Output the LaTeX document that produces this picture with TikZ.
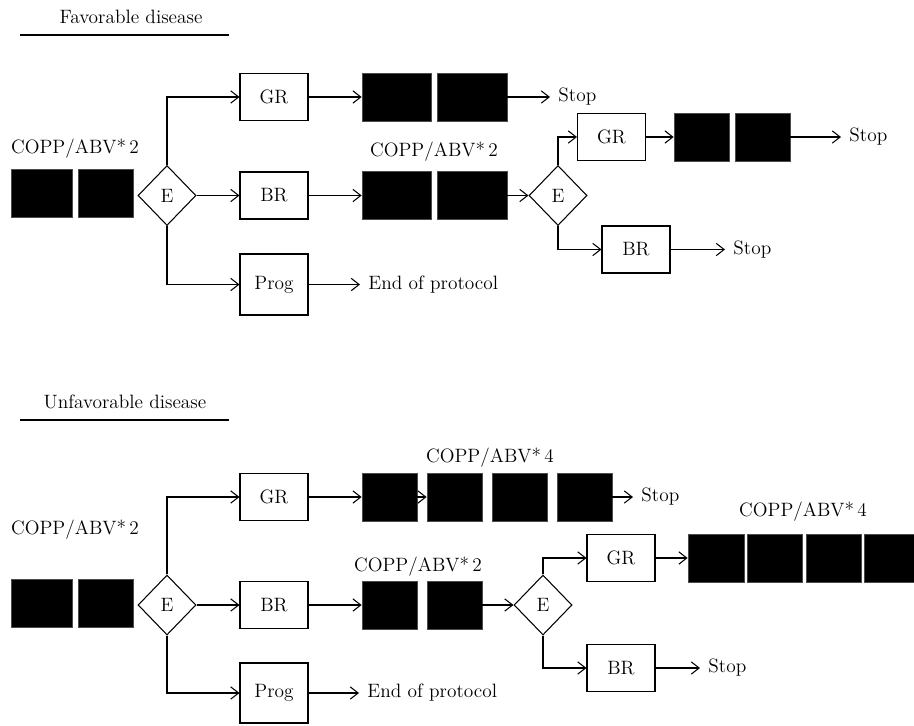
\documentclass[tikz,border=0pt]{standalone}
\usetikzlibrary{shapes.geometric,arrows.meta}

\tikzset{
  resp/.style={draw,minimum width=1.36cm,minimum height=0.94cm,inner sep=0pt},
  cyc/.style={fill=black,draw=black!70,line width=0.4pt,minimum height=0.96cm,inner sep=0pt},
  evalnode/.style={draw,diamond,minimum width=1.16cm,minimum height=1.2cm,inner sep=0pt},
  endtxt/.style={anchor=west,inner xsep=4.5pt,inner ysep=0pt}
}

\begin{document}
\begin{tikzpicture}[x=0.02cm,y=-0.02cm,line width=0.6pt,
    >={Straight Barb[length=4.5pt,width=7pt]},
    every node/.style={font=\fontsize{11}{13}\selectfont}]
  \useasboundingbox (0,0) rectangle (914,725);

  % Favorable disease
  \node (fav) at (131,17) {Favorable disease};
  \draw (20,35) -- (229,35);

  \node[cyc,minimum width=1.22cm] (k0a) at (41.5,193) {};
  \node[cyc,minimum width=1.10cm] (k0b) at (105.5,193) {};
  \node (c0) at (75,149) {COPP/ABV*\,2};
  \node[evalnode] (e1) at (167,195.5) {E};

  \node[resp] (gr1) at (274,97) {GR};
  \node[resp] (br1) at (274,195.5) {BR};
  \node[resp,minimum height=1.22cm] (prog1) at (274,284.5) {Prog};

  \node[cyc,minimum width=1.38cm] (k1a) at (396.5,97) {};
  \node[cyc,minimum width=1.40cm] (k1b) at (472,97) {};
  \node[endtxt] (stop1) at (550,97) {Stop};

  \node (c1) at (434,152) {COPP/ABV*\,2};
  \node[cyc,minimum width=1.38cm] (k2a) at (396.5,195.5) {};
  \node[cyc,minimum width=1.40cm] (k2b) at (472,195.5) {};
  \node[evalnode] (e2) at (558,195.5) {E};

  \node[resp] (gr2) at (611.5,137) {GR};
  \node[cyc,minimum width=1.10cm] (k3a) at (701.5,137) {};
  \node[cyc,minimum width=1.10cm] (k3b) at (762.5,137) {};
  \node[endtxt] (stop2) at (841,137) {Stop};
  \node[resp] (br2) at (636,249.5) {BR};
  \node[endtxt] (stop3) at (725,249.5) {Stop};
  \node[endtxt] (end1) at (360,284.5) {End of protocol};

  % connecting the units
  \draw[->] (e1.north) |- (gr1.west);
  \draw[->] (e1.east) -- (br1.west);
  \draw[->] (e1.south) |- (prog1.west);
  \draw[->] (gr1.east) -- (k1a.west);
  \draw[->] (k1b.east) -- (stop1.west);
  \draw[->] (br1.east) -- (k2a.west);
  \draw[->] (k2b.east) -- (e2.west);
  \draw[->] (e2.north) |- (gr2.west);
  \draw[->] (e2.south) |- (br2.west);
  \draw[->] (gr2.east) -- (k3a.west);
  \draw[->] (k3b.east) -- (stop2.west);
  \draw[->] (br2.east) -- (stop3.west);
  \draw[->] (prog1.east) -- (end1.west);

  % Unfavorable disease
  \node (unfav) at (125,402) {Unfavorable disease};
  \draw (20,420) -- (229,420);

  \node[cyc,minimum width=1.22cm] (k7a) at (41.5,603) {};
  \node[cyc,minimum width=1.10cm] (k7b) at (105.5,603) {};
  \node (c2) at (75,530) {COPP/ABV*\,2};
  \node[evalnode] (e3) at (167,605) {E};

  \node[resp] (gr3) at (274,497) {GR};
  \node[resp] (br3) at (274,605) {BR};
  \node[resp,minimum height=1.2cm] (prog3) at (274,693) {Prog};

  \node (c3) at (490,458) {COPP/ABV*\,4};
  \node[cyc,minimum width=1.10cm] (k4a) at (389.5,497) {};
  \node[cyc,minimum width=1.10cm] (k4b) at (454.5,497) {};
  \node[cyc,minimum width=1.10cm] (k4c) at (519.5,497) {};
  \node[cyc,minimum width=1.10cm] (k4d) at (584.5,497) {};
  \node[endtxt] (stop4) at (633,497) {Stop};

  \node (c4) at (418,567) {COPP/ABV*\,2};
  \node[cyc,minimum width=1.10cm] (k5a) at (389.5,605) {};
  \node[cyc,minimum width=1.10cm] (k5b) at (454.5,605) {};
  \node[evalnode] (e4) at (543,605) {E};

  \node[resp] (gr4) at (621,558) {GR};
  \node (c5) at (803,512) {COPP/ABV*\,4};
  \node[cyc,minimum width=1.12cm] (k6a) at (716,558) {};
  \node[cyc,minimum width=1.10cm] (k6b) at (774.5,558) {};
  \node[cyc,minimum width=1.10cm] (k6c) at (833.5,558) {};
  \node[cyc,minimum width=1.10cm] (k6d) at (891.5,558) {};
  \node[resp] (br4) at (621,668) {BR};
  \node[endtxt] (stop5) at (700,668) {Stop};
  \node[endtxt] (end2) at (359,693) {End of protocol};

  % connecting the units
  \draw[->] (e3.north) |- (gr3.west);
  \draw[->] (e3.east) -- (br3.west);
  \draw[->] (e3.south) |- (prog3.west);
  \draw[->] (gr3.east) -- (k4a.west);
  \draw[->] (k4a.east) -- (k4b.west);
  \draw[->] (k4d.east) -- (stop4.west);
  \draw[->] (br3.east) -- (k5a.west);
  \draw[->] (k5b.east) -- (e4.west);
  \draw[->] (e4.north) |- (gr4.west);
  \draw[->] (e4.south) |- (br4.west);
  \draw[->] (gr4.east) -- (k6a.west);
  \draw[->] (br4.east) -- (stop5.west);
  \draw[->] (prog3.east) -- (end2.west);

\end{tikzpicture}
\end{document}
